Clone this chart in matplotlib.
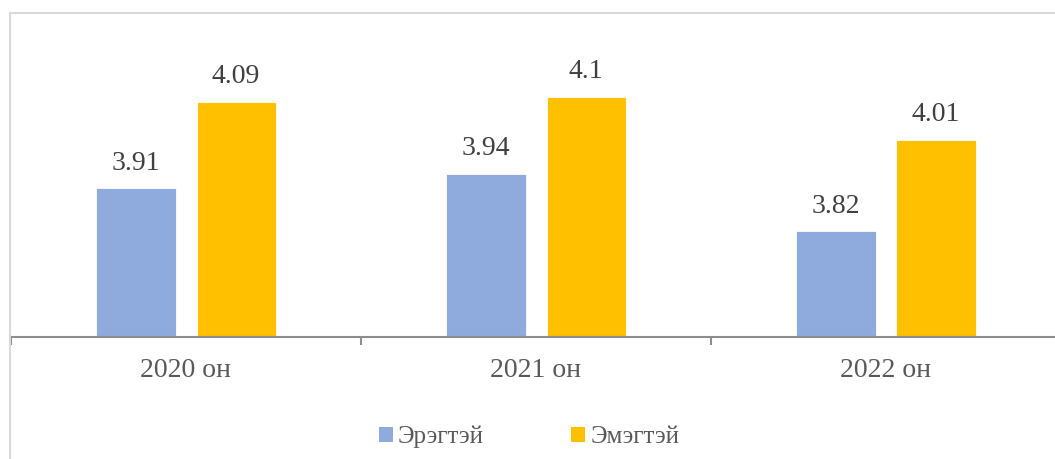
import matplotlib
matplotlib.use("Agg")
import matplotlib.pyplot as plt
from matplotlib.lines import Line2D
from matplotlib.patches import Patch
import numpy as np

categories = ["2020 он", "2021 он", "2022 он"]
series_names = ["Эрэгтэй", "Эмэгтэй"]
men = [3.91, 3.94, 3.82]
women = [4.09, 4.1, 4.01]
colors = ["#8FAADC", "#FFC000"]

plt.rcParams["font.family"] = ["Liberation Serif", "DejaVu Serif"]

W, H = 1055, 459
fig = plt.figure(figsize=(W / 100, H / 100), dpi=100)
ax = fig.add_axes([11 / W, (H - 337) / H, 1050 / W, (337 - 48.7) / H])

x = np.arange(len(categories))
bw = 0.226
off = 0.143
b1 = ax.bar(x - off, men, bw, color=colors[0], edgecolor="white", linewidth=0.6, zorder=2)
b2 = ax.bar(x + off, women, bw, color=colors[1], edgecolor="white", linewidth=0.6, zorder=2)

for bars, vals in ((b1, men), (b2, women)):
    for r, v in zip(bars, vals):
        ax.annotate(f"{v:g}", (r.get_x() + r.get_width() / 2, v),
                    xytext=(0, 9), textcoords="offset points",
                    ha="center", va="bottom", fontsize=20, color="#404040")

ax.set_ylim(3.6, 4.2)
ax.set_xlim(-0.5, 2.5)
for s in ("top", "right", "left"):
    ax.spines[s].set_visible(False)
ax.spines["bottom"].set_color("#8c8c8c")
ax.spines["bottom"].set_linewidth(1.5)
ax.set_yticks([])
ax.set_xticks(x)
ax.set_xticklabels(categories, fontsize=20, color="#595959")
ax.tick_params(axis="x", which="major", length=0, pad=15)
ax.set_xticks([-0.5, 0.5, 1.5, 2.5], minor=True)
ax.tick_params(axis="x", which="minor", length=5.5, width=1.5, color="#8c8c8c", direction="out")

# chart border
fig.add_artist(Line2D([10 / W, 10 / W], [0, 1 - 13 / H], color="#d9d9d9", lw=1.5,
                      transform=fig.transFigure))
fig.add_artist(Line2D([10 / W, 1.0], [1 - 13 / H, 1 - 13 / H], color="#d9d9d9", lw=1.5,
                      transform=fig.transFigure))

handles = [Patch(facecolor=c, edgecolor="none") for c in colors]
leg = fig.legend(handles, series_names, loc="center", bbox_to_anchor=(529 / W, 1 - 437 / H),
                 ncol=2, frameon=False, fontsize=18, handlelength=0.56, handleheight=0.56,
                 handletextpad=0.2, columnspacing=3.5, labelcolor="#595959")

fig.savefig("out.png", dpi=100)
